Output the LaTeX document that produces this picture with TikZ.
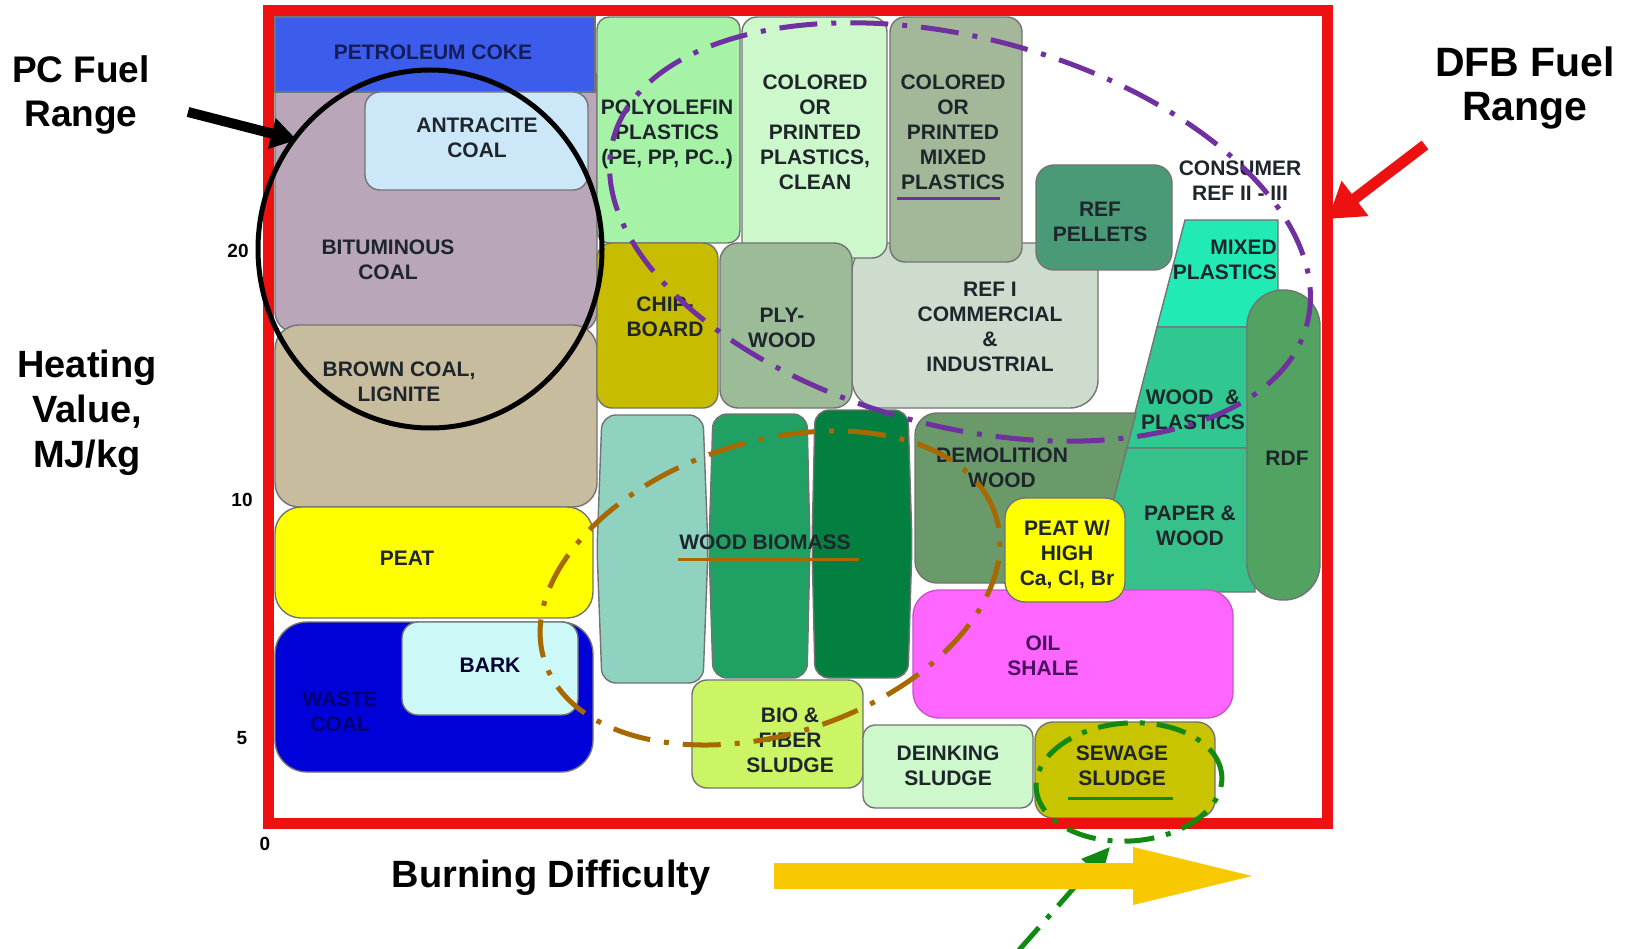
\documentclass[tikz,border=0pt]{standalone}
\usepackage{fontspec}
\setmainfont{Liberation Sans}
\usetikzlibrary{arrows.meta}
\definecolor{txt}{HTML}{1E262C}
\definecolor{cPet}{HTML}{3C5CEC}
\definecolor{cPetT}{HTML}{141C5A}
\definecolor{cBit}{HTML}{B9A7B9}
\definecolor{cAnt}{HTML}{CCE8F8}
\definecolor{cBrown}{HTML}{C8BC9E}
\definecolor{cPeat}{HTML}{FFFF00}
\definecolor{cWaste}{HTML}{0000D8}
\definecolor{cWasteT}{HTML}{000070}
\definecolor{cBark}{HTML}{CCF8F8}
\definecolor{cPoly}{HTML}{A6F2A6}
\definecolor{cClean}{HTML}{CCF8CC}
\definecolor{cMixed}{HTML}{A3B898}
\definecolor{cChip}{HTML}{C8BC00}
\definecolor{cPly}{HTML}{9CBC98}
\definecolor{cRefI}{HTML}{CDDCCD}
\definecolor{cPel}{HTML}{4A9A78}
\definecolor{cMixP}{HTML}{22EAB4}
\definecolor{cWP}{HTML}{30C890}
\definecolor{cPW}{HTML}{38C08A}
\definecolor{cRDF}{HTML}{52A262}
\definecolor{cDemo}{HTML}{6A9A6A}
\definecolor{cOil}{HTML}{FF66FF}
\definecolor{cOilT}{HTML}{4A1060}
\definecolor{cColA}{HTML}{90D2C0}
\definecolor{cColB}{HTML}{20A062}
\definecolor{cColC}{HTML}{038040}
\definecolor{cBio}{HTML}{CCF566}
\definecolor{cDeink}{HTML}{CCF8CC}
\definecolor{cSew}{HTML}{C8C400}
\definecolor{cPurple}{HTML}{7030A0}
\definecolor{cBrownL}{HTML}{A86800}
\definecolor{cGreenL}{HTML}{108A10}
\definecolor{cGold}{HTML}{F8C800}
\definecolor{cRed}{HTML}{EE1111}
% barrel: left-top x, right-top x, left-mid x, right-mid x, top y, bottom y, colour
\newcommand\fuelbarrel[7]{%
  \filldraw[fb, fill=#7, rounded corners=14pt]
    ({(#1+#2)/2},#5) -- (#2,#5) -- (#4,{(#5+#6)/2}) -- (#2,#6)
    -- (#1,#6) -- (#3,{(#5+#6)/2}) -- (#1,#5) -- cycle;}
\begin{document}
\begin{tikzpicture}[x=1pt,y=-1pt,
  fb/.style={draw=black!55, line width=1.4pt, rounded corners=15pt},
  lbl/.style={font=\bfseries\fontsize{21}{25}\selectfont, text=txt, align=center, inner sep=0pt},
  big/.style={font=\bfseries\fontsize{37}{44}\selectfont, text=black, align=center, inner sep=0pt},
  tick/.style={font=\bfseries\fontsize{19}{22}\selectfont, text=black, inner sep=0pt},
  dashdot/.style={line width=5pt, dash pattern=on 38pt off 14pt on 5pt off 14pt},
  uline/.style={line width=3pt}]
\useasboundingbox (0,0) rectangle (1629,949);
\fill[white] (0,0) rectangle (1629,949);

% ---------- coal column ----------
\filldraw[fb, fill=cBit, rounded corners=20pt] (275,60) rectangle (597,332);
\filldraw[fb, fill=cPet, rounded corners=0pt] (275,17) rectangle (595,92);
\filldraw[fb, fill=cAnt] (365,92) rectangle (588,190);
\filldraw[fb, fill=cBrown, rounded corners=24pt] (275,325) rectangle (597,507);
\filldraw[fb, fill=cPeat, rounded corners=26pt] (275,507) rectangle (593,618);
\filldraw[fb, fill=cWaste, rounded corners=32pt] (275,622) rectangle (593,772);
\filldraw[fb, fill=cBark, rounded corners=16pt] (402,622) rectangle (578,715);

% ---------- plastics / wood upper ----------
\filldraw[fb, fill=cRefI, rounded corners=28pt] (852,243) rectangle (1098,408);
\filldraw[fb, fill=cPoly, rounded corners=12pt] (597,17) rectangle (740,243);
\filldraw[fb, fill=cClean] (742,17) rectangle (887,258);
\filldraw[fb, fill=cMixed] (890,17) rectangle (1022,262);
\filldraw[fb, fill=cChip] (597,243) rectangle (718,408);
\filldraw[fb, fill=cPly, rounded corners=18pt] (720,243) rectangle (852,408);
\filldraw[fb, fill=cPel, rounded corners=18pt] (1036,165) rectangle (1172,270);

% ---------- trapezoid column ----------
\filldraw[fb, fill=cMixP, rounded corners=0pt] (1185,220) -- (1278,220) -- (1278,327) -- (1157,327) -- cycle;
\filldraw[fb, fill=cWP, rounded corners=0pt] (1157,327) -- (1255,327) -- (1255,448) -- (1126,448) -- cycle;
\filldraw[fb, fill=cPW, rounded corners=0pt] (1126,448) -- (1255,448) -- (1255,592) -- (1080,592) -- (1080,540) -- (1113,500) -- cycle;
\filldraw[fb, fill=cRDF, rounded corners=36pt] (1247,290) rectangle (1320,600);
\filldraw[fb, fill=cDemo, rounded corners=0pt] (1000,413) [rounded corners=22pt] -- (915,413) -- (915,583) -- (1050,583) [sharp corners] -- (1092,583) -- (1136,413) -- cycle;
\filldraw[fb, fill=cOil, draw=cOil!80!black, rounded corners=26pt] (913,590) rectangle (1233,718);
\filldraw[fb, fill=cPeat, rounded corners=20pt] (1005,498) rectangle (1125,602);

% ---------- wood biomass columns ----------
\fuelbarrel{602}{703}{597}{708}{415}{683}{cColA}
\fuelbarrel{713}{807}{709}{810}{414}{678}{cColB}
\fuelbarrel{815}{908}{812}{912}{410}{678}{cColC}

% ---------- sludges ----------
\filldraw[fb, fill=cBio] (692,680) rectangle (863,788);
\filldraw[fb, fill=cDeink, rounded corners=12pt] (863,725) rectangle (1033,808);
\filldraw[fb, fill=cSew, rounded corners=18pt] (1035,722) rectangle (1215,818);

% ---------- red frame ----------
\draw[cRed, line width=11pt] (268,11) rectangle (1327,823);

% ---------- box texts ----------
\node[lbl, text=cPetT] (tPet) at (433,52) {PETROLEUM COKE};
\node[lbl] (tAnt) at (477,138) {ANTRACITE\\COAL};
\node[lbl] (tBit) at (388,260) {BITUMINOUS\\COAL};
\node[lbl] (tBrown) at (399,382) {BROWN COAL,\\LIGNITE};
\node[lbl] (tPeat) at (407,558) {PEAT};
\node[lbl, text=cWasteT] (tWaste) at (340,712) {WASTE\\COAL};
\node[lbl, text=black!80!blue] (tBark) at (490,665) {BARK};
\node[lbl] (tPoly) at (667,134) {POLYOLEFIN\\PLASTICS\\(PE, PP, PC..)};
\node[lbl] (tClean) at (815,132) {COLORED\\OR\\PRINTED\\PLASTICS,\\CLEAN};
\node[lbl] (tMixed) at (953,132) {COLORED\\OR\\PRINTED\\MIXED\\PLASTICS};
\node[lbl] (tChip) at (665,317) {CHIP-\\BOARD};
\node[lbl] (tPly) at (782,328) {PLY-\\WOOD};
\node[lbl] (tRefI) at (990,327) {REF I\\COMMERCIAL\\\&\\INDUSTRIAL};
\node[lbl] (tPel) at (1100,222) {REF\\PELLETS};
\node[lbl] (tCons) at (1240,181) {CONSUMER\\REF II - III};
\node[lbl, align=right, anchor=east] (tMixP) at (1277,260) {MIXED\\PLASTICS};
\node[lbl] (tWP) at (1193,410) {WOOD\ \ \&\\PLASTICS};
\node[lbl] (tPW) at (1190,526) {PAPER \&\\WOOD};
\node[lbl] (tRDF) at (1287,458) {RDF};
\node[lbl] (tDemo) at (1002,468) {DEMOLITION\\WOOD};
\node[lbl] (tPeatW) at (1067,555) {PEAT W/\\HIGH\\Ca, Cl, Br};
\node[lbl, text=cOilT] (tOil) at (1043,656) {OIL\\SHALE};
\node[lbl] (tBiom) at (765,542) {WOOD BIOMASS};
\node[lbl] (tBio) at (790,740) {BIO \&\\FIBER\\SLUDGE};
\node[lbl] (tDeink) at (948,766) {DEINKING\\SLUDGE};
\node[lbl] (tSew) at (1122,766) {SEWAGE\\SLUDGE};

% underlines
\draw[uline, cPurple] (897,199) -- (1000,199);
\draw[uline, cBrownL] (678,559) -- (859,559);
\draw[uline, cGreenL] (1068,798) -- (1173,798);

% ---------- range ellipses ----------
\draw[black, line width=5pt] (430,249) ellipse [x radius=172pt, y radius=179pt];
\draw[cPurple, dashdot, rotate around={-15:(960,232)}] (960,232) ellipse [x radius=359pt, y radius=194pt];
\draw[cBrownL, dashdot, rotate around={18:(770,588)}] (770,588) ellipse [x radius=237pt, y radius=146pt];
\draw[cGreenL, line width=5pt, dash pattern=on 30pt off 12pt on 5pt off 12pt, rotate around={4:(1129,782)}] (1129,782) ellipse [x radius=93pt, y radius=59pt];

% ---------- outside labels ----------
\node[big] (pcLbl) at (81,95) {PC Fuel\\Range};
\node[big, font=\bfseries\fontsize{41}{44}\selectfont] (dfbLbl) at (1525,88) {DFB Fuel\\Range};
\node[big, font=\bfseries\fontsize{38}{45}\selectfont] (yLbl) at (87,413) {Heating\\Value,\\MJ/kg};
\node[big, font=\bfseries\fontsize{38}{44}\selectfont] (xLbl) at (551,878) {Burning Difficulty};
\node[tick] (t20) at (238,251) {20};
\node[tick] (t10) at (242,500) {10};
\node[tick] (t5) at (242,738) {5};
\node[tick] (t0) at (265,844) {0};

% ---------- arrows ----------
\coordinate (pcA) at (188,112);
\coordinate (pcB) at (297,140);
\draw[black, line width=10pt, -{Triangle[length=26pt,width=30pt]}] (pcA) -- (pcB);
\coordinate (dfbA) at (1425,145);
\coordinate (dfbB) at (1328,219);
\draw[cRed, line width=11pt, -{Triangle[length=34pt,width=42pt]}] (dfbA) -- (dfbB);
\coordinate (swA) at (1019,950);
\coordinate (swB) at (1110,847);
\draw[cGreenL, line width=5pt, dash pattern=on 30pt off 12pt on 5pt off 12pt, -{Triangle[length=28pt,width=26pt]}] (swA) -- (swB);
\fill[cGold] (774,863) -- (1133,863) -- (1133,847) -- (1252,876) -- (1133,905) -- (1133,889) -- (774,889) -- cycle;
\end{tikzpicture}
\end{document}
